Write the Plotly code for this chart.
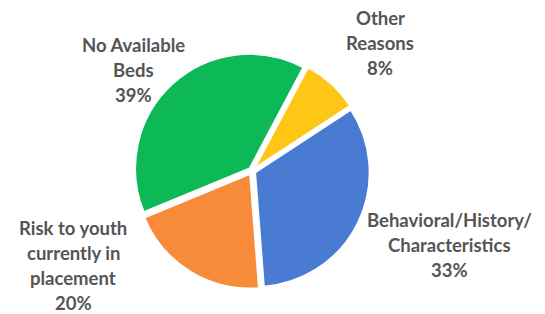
import plotly.graph_objects as go

labels = ["Other Reasons", "Behavioral/History/Characteristics",
          "Risk to youth currently in placement", "No Available Beds"]
values = [8, 33, 20, 39]
label_lines = [["Other", "Reasons"],
               ["Behavioral/History/", "Characteristics"],
               ["Risk to youth", "currently in", "placement"],
               ["No Available", "Beds"]]
colors = ["#FFC715", "#4A7BD3", "#F78B3A", "#0DB856"]

W, H = 545, 314
cx, cy, half = 252, 171, 118

fig = go.Figure(go.Pie(
    labels=labels, values=values, sort=False, direction="clockwise",
    rotation=28, pull=[0.03, 0.03, 0.03, 0.03],
    marker=dict(colors=colors, line=dict(color="#FFFFFF", width=2)),
    textinfo="none", hoverinfo="label+percent", showlegend=False,
    domain=dict(x=[(cx - half) / W, (cx + half) / W],
                y=[(H - cy - half) / H, (H - cy + half) / H]),
))

# label anchor positions (center x, first line center y) in pixels
anchors = [(380, 18), (449, 220), (73, 228), (133, 45)]
step = 25
annotations = []
for lines, v, (ax, ay) in zip(label_lines, values, anchors):
    for i, t in enumerate(lines + [f"{v}%"]):
        annotations.append(dict(
            x=ax / W, y=1 - (ay + i * step) / H, xref="paper", yref="paper",
            text=t, showarrow=False, xanchor="center", yanchor="middle",
            font=dict(family="Lato", size=18.5, color="#555555", weight="bold"),
        ))

fig.update_layout(
    width=W, height=H, margin=dict(l=0, r=0, t=0, b=0),
    paper_bgcolor="white", plot_bgcolor="white",
    annotations=annotations,
)
fig.write_html("out.html", config={"displayModeBar": False},
               post_script="document.body.style.margin='0';")
